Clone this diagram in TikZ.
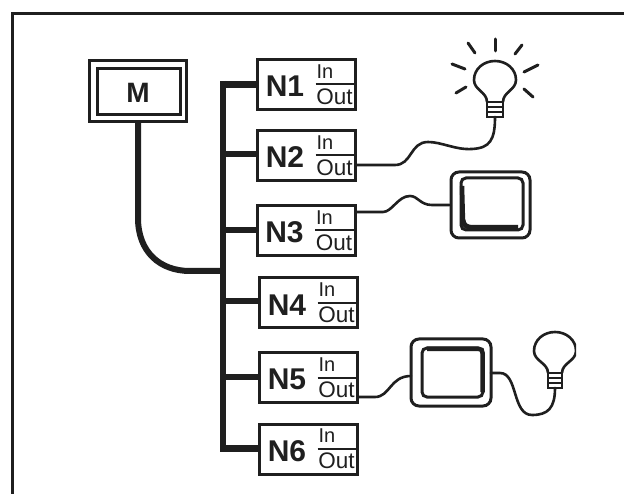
\documentclass[tikz,border=0pt]{standalone}
\usepackage{fontspec}
\setmainfont{Liberation Sans}
\definecolor{ink}{gray}{0.12}
\tikzset{
  x=1pt,y=-1pt,
  frameline/.style={draw=ink,line width=3pt},
  nodebox/.style={draw=ink,line width=3pt,minimum width=98pt,minimum height=50pt,inner sep=0pt},
  nname/.style={font=\fontsize{30}{30}\selectfont\bfseries,text=ink,inner sep=0pt},
  inlabel/.style={font=\fontsize{20}{20}\selectfont,text=ink,inner sep=0pt},
  outlabel/.style={font=\fontsize{22.5}{22.5}\selectfont,text=ink,inner sep=0pt},
  bus/.style={draw=ink,line width=6.5pt},
  wire/.style={draw=ink,line width=2.6pt,line cap=round},
  ray/.style={draw=ink,line width=3pt,line cap=round},
  lampline/.style={draw=ink,line width=2.6pt},
  scr/.style={draw=ink,line width=3pt},
}
\newcommand{\netnode}[4]{%
  \node[nodebox] (#1) at (#2,#3) {};
  \node[nname] (#1t) at (#2-21.5,#3+2) {#4};
  \coordinate (#1a) at (#2+9,#3);
  \coordinate (#1b) at (#2+49,#3);
  \draw[draw=ink,line width=2pt] (#1a) -- (#1b);
  \node[inlabel] (#1i) at (#2+18.5,#3-13) {In};
  \node[outlabel] (#1o) at (#2+28,#3+12) {Out};
}
\newcommand{\lampshape}[4]{% name, x, y of cap bottom centre, neck half width
  \begin{scope}[shift={(#2,#3)}]
    \draw[lampline] (-#4,-15) .. controls (-#4,-25) and (-21,-27) .. (-21,-37)
       .. controls (-21,-48) and (-11.5,-56) .. (0,-56)
       .. controls (11.5,-56) and (21,-48) .. (21,-37)
       .. controls (21,-27) and (#4,-25) .. (#4,-15);
    \draw[lampline] (-#4,-15) rectangle (#4,0);
    \draw[lampline] (-#4,-10) -- (#4,-10) (-#4,-5) -- (#4,-5);
  \end{scope}
  \coordinate (#1) at (#2,#3);
}
\begin{document}
\begin{tikzpicture}
\useasboundingbox (0,0) rectangle (624,494);
\fill[white] (0,0) rectangle (624,494);
% frame: only the top and the left edge are in the picture
\coordinate (frameTR) at (624,13.5);
\coordinate (frameTL) at (12.5,13.5);
\coordinate (frameBL) at (12.5,494);
\draw[frameline,line join=miter] (frameTR) -- (frameTL) -- (frameBL);

\begin{scope}
\clip (0,0) rectangle (576,476);
% M box
\node[draw=ink,line width=3pt,minimum width=97pt,minimum height=61pt,inner sep=0pt] (mouter) at (138,91) {};
\node[draw=ink,line width=3pt,minimum width=83pt,minimum height=46pt,inner sep=0pt] (minner) at (139,91.5) {};
\node[font=\fontsize{28}{28}\selectfont\bfseries,text=ink,inner sep=0pt] (mt) at (138,92.5) {M};

% nodes
\netnode{n1}{306.5}{84.5}{N1}
\netnode{n2}{306.5}{155.5}{N2}
\netnode{n3}{306}{230.5}{N3}
\netnode{n4}{308.5}{303}{N4}
\netnode{n5}{308.5}{377.5}{N5}
\netnode{n6}{308.5}{449}{N6}

% bus
\coordinate (bustop) at (223,81);
\coordinate (busbot) at (223,452);
\coordinate (busjoin) at (223,271);
\draw[bus] (bustop) -- (busbot);
\foreach \n/\y in {n1/84.5,n2/154,n3/230,n4/301,n5/377,n6/448.5}
  \draw[bus] (223,\y) -- (\n.west |- 0,\y);
\draw[draw=ink,line width=6pt] (mouter.south) -- (138,218) .. controls (138,252) and (160,271) .. (190,271) -- (busjoin);

% lamp top
\lampshape{lampa}{495}{117}{8}
\foreach \a/\b/\c/\d in {468/43/475/53, 495/39/495/51, 522/45/515/54, 452/64/465/69, 538/65/524/72, 456/93/466/87, 533/97/524/89}
  \draw[ray] (\a,\b) -- (\c,\d);
\coordinate (n2out) at (n2.east |- 0,165);
\draw[wire] (n2out) -- (395,165) .. controls (412,165) and (410,142) .. (428,142)
   .. controls (442,142) and (455,150) .. (472,149) .. controls (490,148) and (495,140) .. (lampa);

% monitor 1
\node[scr,rounded corners=8pt,minimum width=79pt,minimum height=66pt,inner sep=0pt] (mon1) at (490.5,205) {};
\node[scr,rounded corners=5pt,minimum width=62pt,minimum height=52pt,inner sep=0pt] (mon1i) at (492,204) {};
\draw[draw=ink,line width=4.5pt] (462,186) -- (463,222);
\draw[draw=ink,line width=5pt] (463,220) .. controls (463,225) and (467,227.5) .. (472,227.5) -- (518,227.5);
\coordinate (n3out) at (n3.east |- 0,212);
\draw[wire] (n3out) -- (383,212) .. controls (392,212) and (398,196) .. (410,196)
   .. controls (418,196) and (420,205) .. (432,205) -- (mon1.west);

% monitor 2
\node[scr,rounded corners=8pt,minimum width=80pt,minimum height=67pt,inner sep=0pt] (mon2) at (451,372.5) {};
\node[scr,rounded corners=5pt,minimum width=61pt,minimum height=49pt,inner sep=0pt] (mon2i) at (452.5,372.5) {};
\draw[draw=ink,line width=4.5pt] (427,349) -- (479,349) .. controls (481.5,349) and (482.5,350) .. (482.5,353) -- (482.5,392);
\coordinate (n5out) at (n5.east |- 0,397);
\coordinate (mon2L) at (411,376);
\coordinate (mon2R) at (491,373);
\draw[wire] (n5out) -- (375,397) .. controls (390,397) and (390,376) .. (mon2L);

% lamp right
\lampshape{lampb}{555}{388}{7}
\draw[wire] (mon2R) -- (500,373) .. controls (518,373) and (512,415) .. (532,415)
   .. controls (548,415) and (555,408) .. (lampb);
\end{scope}
\end{tikzpicture}
\end{document}
